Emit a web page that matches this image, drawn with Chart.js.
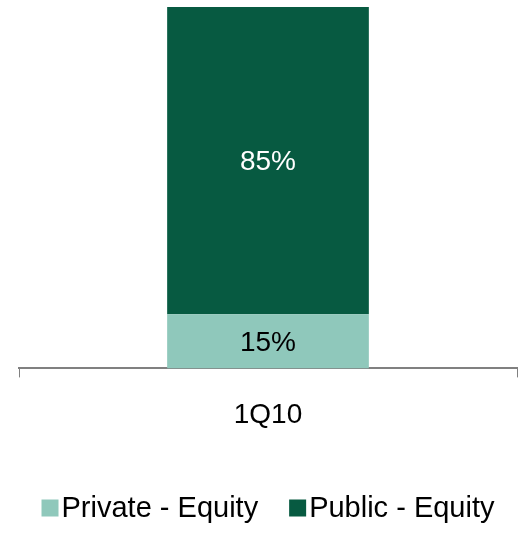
<!DOCTYPE html>
<html>
<head>
<meta charset="utf-8">
<script src="https://cdn.jsdelivr.net/npm/chart.js@4"></script>
<style>
  html, body { margin: 0; padding: 0; background: #fff; }
  #wrap { width: 518px; height: 533px; }
</style>
</head>
<body>
<div id="wrap"><canvas id="mixChart"></canvas></div>
<script>
// data
const categories = ['1Q10'];
const seriesNames = ['Private - Equity', 'Public - Equity'];
const privateEquity = [15];
const publicEquity = [85];

const lightColor = '#8fc8bb';
const darkColor = '#075a41';
const fontFamily = "'Liberation Sans', Arial, sans-serif";

// draws the % label in the middle of each bar segment
const segmentLabels = {
    id: 'segmentLabels',
    afterDatasetsDraw(chart) {
        const ctx = chart.ctx;
        ctx.save();
        ctx.font = '28px ' + fontFamily;
        ctx.textAlign = 'center';
        ctx.textBaseline = 'middle';
        chart.data.datasets.forEach((ds, i) => {
            chart.getDatasetMeta(i).data.forEach((bar, j) => {
                ctx.fillStyle = ds.labelColor;
                ctx.fillText(ds.data[j] + '%', bar.x, (bar.y + bar.base) / 2 + 2);
            });
        });
        ctx.restore();
    }
};

// legend with tight box/text spacing, centred under the plot area
const tightLegend = {
    id: 'tightLegend',
    afterDraw(chart) {
        const ctx = chart.ctx;
        const box = 17, boxGap = 3, itemGap = 31, y = 508;
        ctx.save();
        ctx.font = '29px ' + fontFamily;
        ctx.textBaseline = 'middle';
        const items = chart.data.datasets.map(ds => ({
            text: ds.label, color: ds.backgroundColor, w: ctx.measureText(ds.label).width
        }));
        let total = items.reduce((s, it) => s + box + boxGap + it.w, 0) + itemGap * (items.length - 1);
        let x = (chart.chartArea.left + chart.chartArea.right) / 2 - total / 2;
        items.forEach(it => {
            ctx.fillStyle = it.color;
            ctx.fillRect(x, y - box / 2, box, box);
            ctx.fillStyle = '#000';
            ctx.fillText(it.text, x + box + boxGap, y + 1);
            x += box + boxGap + it.w + itemGap;
        });
        ctx.restore();
    }
};

new Chart(document.getElementById('mixChart'), {
    type: 'bar',
    data: {
        labels: categories,
        datasets: [{
            label: seriesNames[0],
            data: privateEquity,
            backgroundColor: lightColor,
            labelColor: '#000',
            categoryPercentage: 1,
            barPercentage: 0.405
        }, {
            label: seriesNames[1],
            data: publicEquity,
            backgroundColor: darkColor,
            labelColor: '#fff',
            categoryPercentage: 1,
            barPercentage: 0.405
        }]
    },
    options: {
        responsive: true,
        maintainAspectRatio: false,
        animation: false,
        layout: { padding: { left: 19, right: 1, top: 7, bottom: 80 } },
        scales: {
            x: {
                stacked: true,
                border: { color: '#808080', width: 2 },
                grid: { drawOnChartArea: false, color: '#808080', tickLength: 9, lineWidth: 1 },
                ticks: { color: '#000', font: { family: fontFamily, size: 28 }, padding: 21 }
            },
            y: {
                stacked: true,
                display: false,
                min: 0,
                max: 100
            }
        },
        plugins: {
            tooltip: { enabled: false },
            legend: { display: false }
        }
    },
    plugins: [segmentLabels, tightLegend]
});
</script>
</body>
</html>
